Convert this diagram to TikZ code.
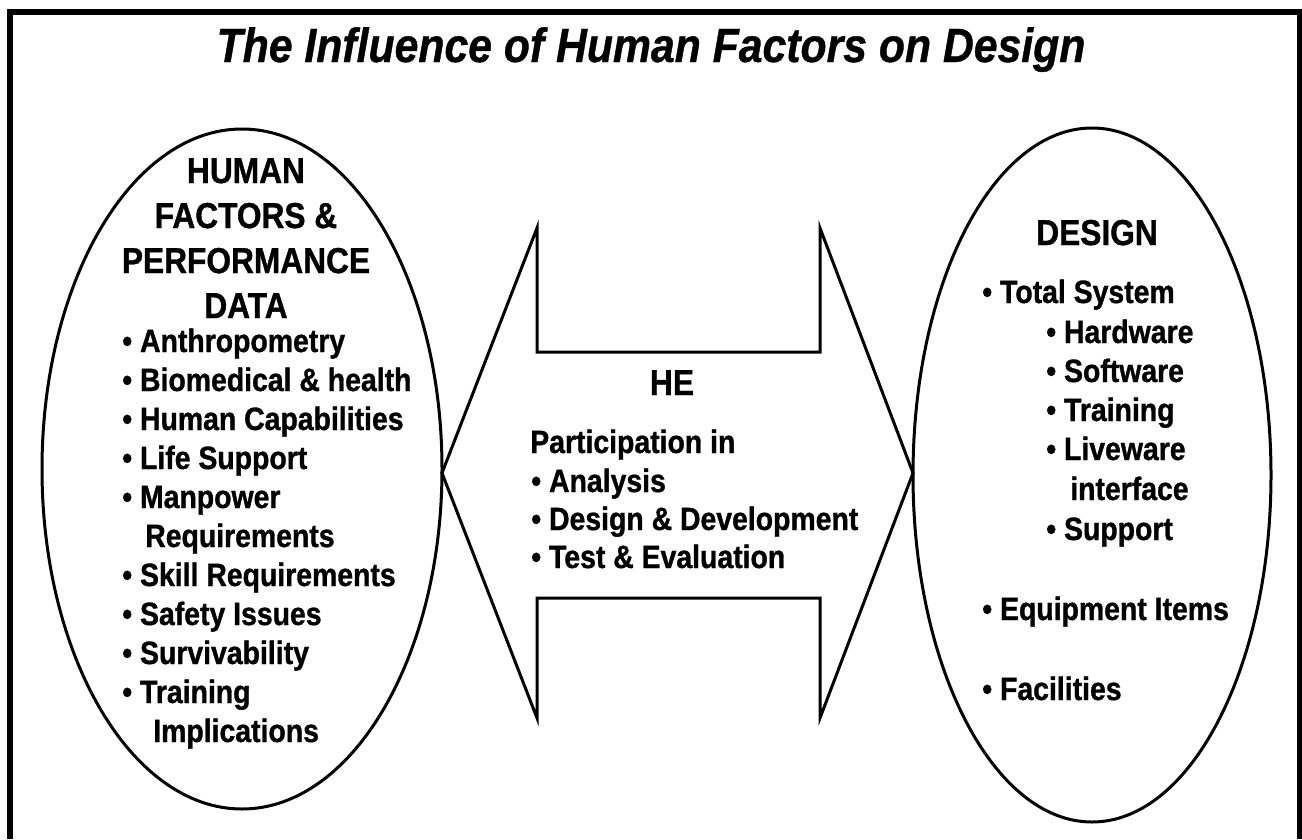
\documentclass[tikz,border=0pt]{standalone}
\usepackage{fontspec}
\setmainfont{Liberation Sans}
\newfontfamily\titlefont[FakeStretch=0.89,FakeBold=0.8]{Liberation Sans}
\newfontfamily\headfont[FakeStretch=0.88,FakeBold=1]{Liberation Sans}
\newfontfamily\itemfont[FakeStretch=0.88,FakeBold=1]{Liberation Sans}
\usepackage{tikz}
\usetikzlibrary{shapes.geometric}

\begin{document}
\begin{tikzpicture}[x=0.75pt,y=0.75pt,yscale=-1,xscale=1,
        heavy/.style={line width=4pt},
        outline/.style={line width=2.25pt, line join=miter},
        blob/.style={draw, ellipse, line width=2.25pt, inner sep=0pt},
        titletext/.style={anchor=base, inner sep=0pt, font=\titlefont\bfseries\itshape\fontsize{36}{40}\selectfont},
        headtext/.style={anchor=base, inner sep=0pt, font=\headfont\bfseries\fontsize{27}{30}\selectfont},
        item/.style={anchor=base west, inner sep=0pt, font=\itemfont\bfseries\fontsize{24.2}{27}\selectfont}]
        \useasboundingbox (0,0) rectangle (1302,839);

        % frame, open at the bottom
        \draw [heavy] (10,839) -- (10,12) -- (1299.5,12) -- (1299.5,839) ;

        \node [titletext] (title) at (651,62) {The Influence of Human Factors on Design};

        % the two ellipses
        \node [blob, minimum width=300pt, minimum height=510pt] (hf) at (242,469) {};
        \node [blob, minimum width=268.5pt, minimum height=520.5pt] (design) at (1092,475) {};

        % double arrow between them
        \coordinate (tipL) at (442,473);
        \coordinate (tipR) at (913,473);
        \draw [outline] (tipL) -- (537,228) -- (537,352) -- (820,352) -- (820,228) -- (tipR) -- (820,718) -- (820,598) -- (537,598) -- (537,718) -- cycle ;

        % left ellipse
        \foreach \t [count=\i] in {HUMAN, FACTORS \&, PERFORMANCE, DATA}
            \node [headtext] (hf-\i) at (246,{183+45*(\i-1)}) {\t};
        \foreach \x/\t [count=\i] in {122/{• Anthropometry}, 122/{• Biomedical \& health}, 122/{• Human Capabilities}, 122/{• Life Support}, 122/{• Manpower}, 145/{Requirements}, 122/{• Skill Requirements}, 122/{• Safety Issues}, 122/{• Survivability}, 122/{• Training}, 153/{Implications}}
            \node [item] (hf-item\i) at (\x,{352+39*(\i-1)}) {\t};

        % middle
        \node [headtext] (he) at (672,395) {HE};
        \node [item] (he-0) at (530,453) {Participation in};
        \foreach \t [count=\i] in {{• Analysis}, {• Design \& Development}, {• Test \& Evaluation}}
            \node [item] (he-\i) at (531,{492+38*(\i-1)}) {\t};

        % right ellipse
        \node [headtext] (design-h) at (1097,245) {DESIGN};
        \foreach \x/\y/\t [count=\i] in {982/303/{• Total System}, 1046/343/{• Hardware}, 1046/382/{• Software}, 1046/421/{• Training}, 1046/460/{• Liveware}, 1070/500/{interface}, 1046/540/{• Support}, 982/620/{• Equipment Items}, 982/700/{• Facilities}}
            \node [item] (design-\i) at (\x,\y) {\t};

\end{tikzpicture}
\end{document}
